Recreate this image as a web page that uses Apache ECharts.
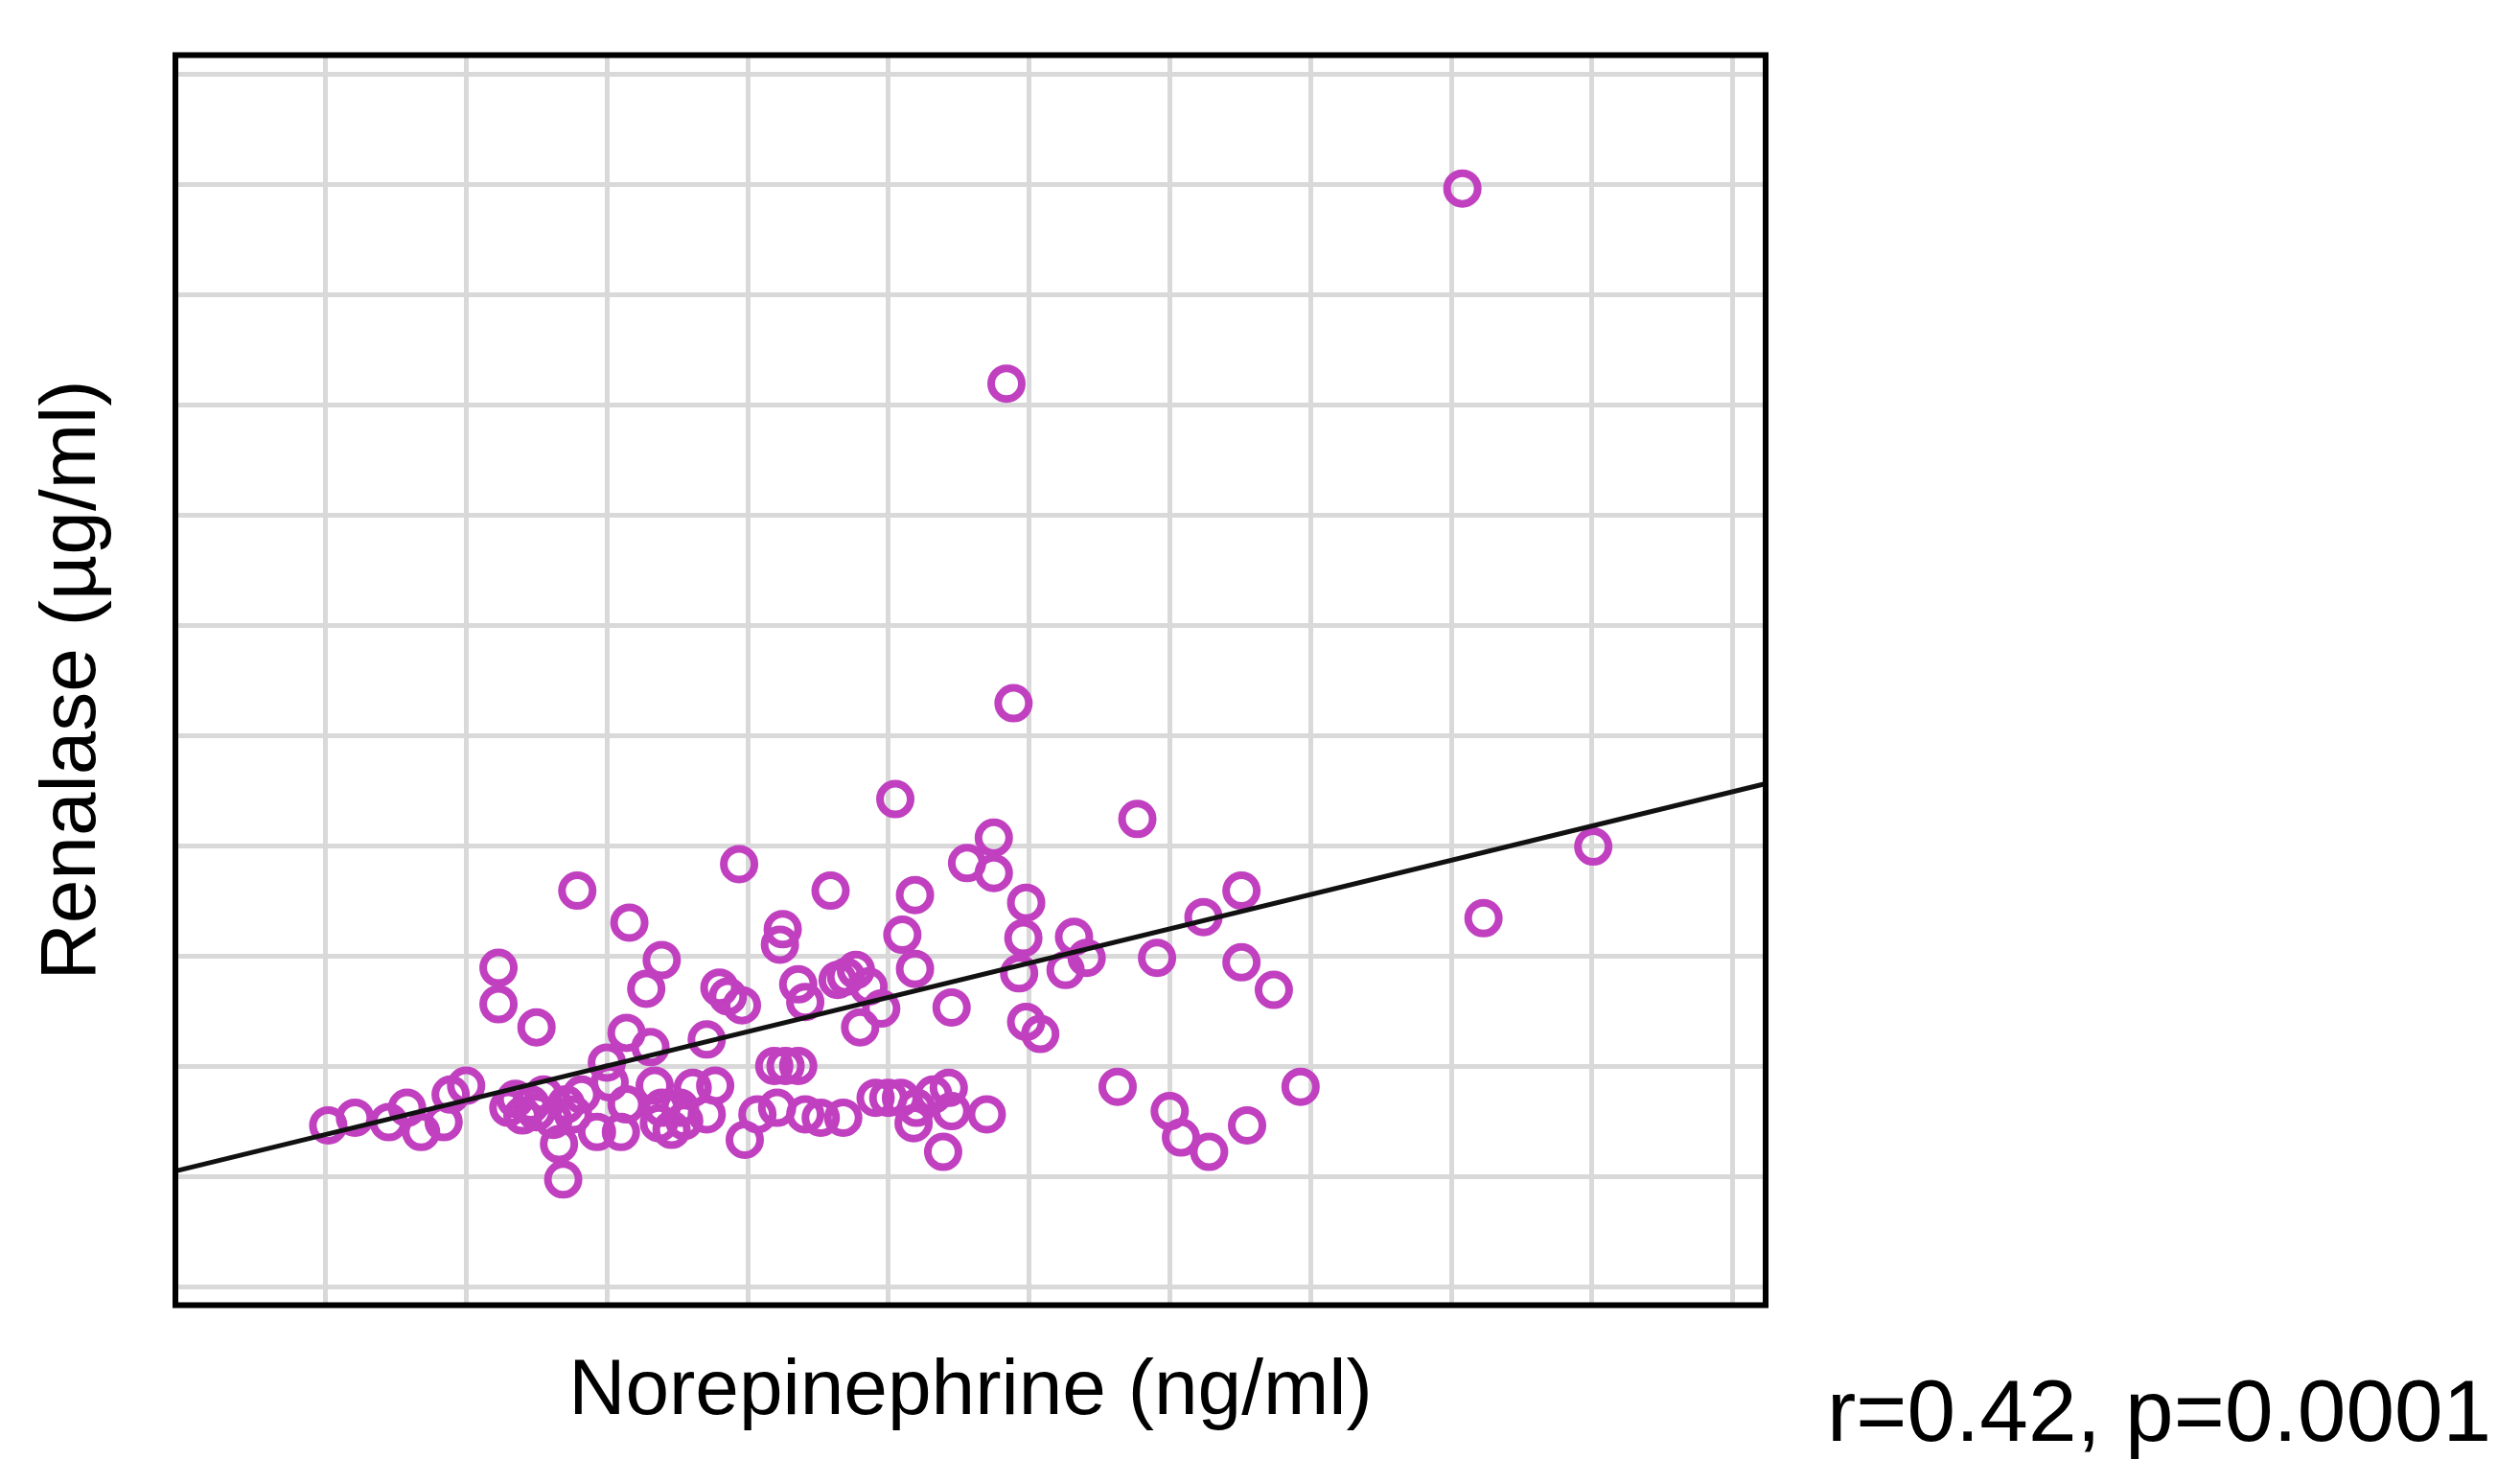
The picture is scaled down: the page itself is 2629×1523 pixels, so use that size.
<!DOCTYPE html>
<html>
<head>
<meta charset="utf-8">
<title>Renalase vs Norepinephrine</title>
<script src="https://cdn.jsdelivr.net/npm/echarts@6.0.0/dist/echarts.min.js"></script>
<style>
  html, body { margin: 0; padding: 0; background: #fff; }
  #main { width: 2629px; height: 1523px; }
</style>
</head>
<body>
<div id="main"></div>
<script>
  // values (no tick labels in the original, grid units used)
  var norepinephrine = [
    8.08, 4.84, 4.89, 4.05, 5.77, 4.75, 9.01, 8.23, 2.94, 3.59,
    4.19, 4.56, 4.75, 4.98, 1.79, 2.16, 3.25, 3.23, 4.10, 4.96,
    5.32, 5.41, 5.26, 5.91, 6.51, 6.24, 6.51, 6.74, 2.39, 2.28,
    1.23, 1.23, 1.50, 2.14, 2.31, 2.80, 2.96, 2.86, 2.71, 3.36,
    3.41, 3.64, 3.70, 3.77, 3.86, 3.95, 3.80, 4.19, 4.45, 4.93,
    4.98, 5.08,
    0.02, 0.21, 0.45, 0.58, 0.68, 0.84, 0.89, 1.00, 1.30, 1.46,
    1.55, 1.62, 1.71, 1.82, 1.66, 1.69, 1.93, 2.10, 2.02, 2.14,
    2.00, 2.34, 2.37, 2.39, 2.46, 2.61, 2.77, 2.71, 2.98, 3.07,
    3.21, 3.19, 3.27, 3.36, 3.41, 3.52, 3.68, 3.91, 4.00, 4.09,
    4.20, 4.32, 4.43, 4.45, 4.39, 4.70, 4.18, 5.63, 6.00, 6.08,
    6.28, 6.55, 6.93, 1.40, 1.76, 1.50, 1.35, 2.52, 2.55
  ];
  var renalase = [
    9.96, 8.19, 5.29, 4.42, 4.24, 4.07, 3.99, 3.34, 3.83, 3.59,
    3.55, 3.84, 3.75, 3.48, 3.59, 3.30, 3.24, 3.10, 3.19, 3.16,
    3.17, 2.98, 2.87, 2.98, 3.59, 3.35, 2.94, 2.69, 2.96, 2.70,
    2.89, 2.56, 2.35, 2.30, 2.17, 2.71, 2.55, 2.63, 2.24, 2.74,
    2.58, 2.78, 2.81, 2.87, 2.72, 2.52, 2.35, 2.88, 2.53, 2.84,
    2.40, 2.29,
    1.46, 1.53, 1.49, 1.62, 1.40, 1.49, 1.74, 1.82, 1.62, 1.65,
    1.74, 1.51, 1.65, 1.74, 1.29, 0.97, 1.40, 1.40, 1.85, 1.65,
    2.03, 1.82, 1.48, 1.62, 1.42, 1.80, 1.82, 1.56, 1.33, 1.56,
    1.62, 2.00, 2.00, 2.00, 1.56, 1.53, 1.53, 1.71, 1.71, 1.71,
    1.62, 1.74, 1.80, 1.59, 1.22, 1.56, 1.48, 1.81, 1.59, 1.35,
    1.22, 1.46, 1.81, 1.55, 1.56, 1.58, 1.70, 1.62, 1.50
  ];
  // regression line end points
  var fitX = [-1.066, 10.235];
  var fitY = [1.045, 4.56];
  // grid line positions
  var xGridTicks = [0, 1, 2, 3, 4, 5, 6, 7, 8, 9, 10];
  var yGridTicks = [0, 1, 2, 3, 4, 5, 6, 7, 8, 9, 10, 11];

  var points = norepinephrine.map(function (v, i) { return [v, renalase[i]]; });
  var fitLine = fitX.map(function (v, i) { return [v, fitY[i]]; });

  var gridMarks = [];
  xGridTicks.forEach(function (v) { gridMarks.push({ xAxis: v }); });
  yGridTicks.forEach(function (v) { gridMarks.push({ yAxis: v }); });

  var myChart = echarts.init(document.getElementById('main'));

  var font = "'Liberation Sans', Arial, sans-serif";

  var option = {
    animation: false,
    backgroundColor: '#fff',
    title: {
      text: 'r=0.42, p=0.0001',
      left: 1906,
      top: 1432,
      padding: 0,
      textStyle: { fontFamily: font, fontSize: 91, fontWeight: 'normal', color: '#000' }
    },
    grid: {
      show: true,
      z: 10,
      left: 183,
      top: 57.5,
      width: 1659,
      height: 1304,
      containLabel: false,
      outerBoundsMode: 'none',
      backgroundColor: 'rgba(0,0,0,0)',
      borderColor: '#000',
      borderWidth: 6
    },
    xAxis: {
      type: 'value',
      min: -1.066,
      max: 10.235,
      name: 'Norepinephrine (ng/ml)',
      nameLocation: 'middle',
      nameGap: 50,
      nameMoveOverlap: false,
      nameTextStyle: { fontFamily: font, fontSize: 82, color: '#000' },
      axisLine: { show: false },
      axisTick: { show: false },
      axisLabel: { show: false },
      splitLine: { show: false }
    },
    yAxis: {
      type: 'value',
      min: -0.171,
      max: 11.17,
      name: 'Renalase (\u00b5g/ml)',
      nameLocation: 'middle',
      nameGap: 66,
      nameMoveOverlap: false,
      nameTextStyle: { fontFamily: font, fontSize: 82, color: '#000' },
      axisLine: { show: false },
      axisTick: { show: false },
      axisLabel: { show: false },
      splitLine: { show: false }
    },
    series: [
      {
        name: 'points',
        type: 'scatter',
        z: 3,
        symbol: 'circle',
        symbolSize: 32,
        itemStyle: {
          color: 'rgba(0,0,0,0)',
          borderColor: '#c040c0',
          borderWidth: 8,
          opacity: 1
        },
        data: points,
        markLine: {
          z: 1,
          silent: true,
          symbol: 'none',
          label: { show: false },
          lineStyle: { color: '#d9d9d9', width: 5, type: 'solid' },
          emphasis: { disabled: true },
          data: gridMarks
        }
      },
      {
        name: 'fit',
        type: 'line',
        z: 4,
        symbol: 'none',
        silent: true,
        lineStyle: { color: '#111', width: 5 },
        data: fitLine
      }
    ]
  };

  myChart.setOption(option);
  window.onresize = function () {
    myChart.resize();
  };
</script>
</body>
</html>
